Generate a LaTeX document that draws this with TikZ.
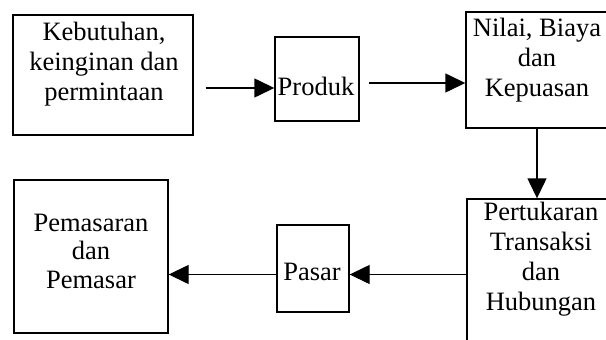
\documentclass[tikz,border=0pt]{standalone}
\usepackage{fontspec}
\setmainfont{Liberation Serif}
\usetikzlibrary{arrows.meta}
\begin{document}
\begin{tikzpicture}[x=1pt,y=-1pt,
  box/.style={draw, line width=1.4pt, inner sep=0pt, minimum width=#1},
  txt/.style={align=center, inner sep=0pt, font=\fontsize{26.5}{30}\selectfont},
  arr/.style={line width=1.4pt, -{Triangle[length=20pt,width=19pt]}}]
\clip (0,0) rectangle (606,340);
\fill[white] (0,0) rectangle (606,340);
% boxes
\node[box=180pt, minimum height=120pt] (kb) at (103,75) {};
\node[box=84pt, minimum height=84pt] (pr) at (317,79) {};
\node[box=142pt, minimum height=116pt] (nl) at (537,70) {};
\node[box=148pt, minimum height=160pt] (pt) at (541,279) {};
\node[box=72pt, minimum height=87pt] (ps) at (313,268.5) {};
\node[box=154pt, minimum height=153pt] (pm) at (91,256.5) {};
% texts
\node[txt] (tkb) at (104,64) {Kebutuhan,\\keinginan dan\\permintaan};
\node[txt] (tpr) at (316,86) {Produk};
\node[txt] (tnl) at (537,60) {Nilai, Biaya\\dan\\Kepuasan};
\node[txt] (tpt) at (541,259) {Pertukaran\\Transaksi\\dan\\Hubungan};
\node[txt] (tps) at (312,272) {Pasar};
\node[txt, font=\fontsize{26.5}{28.5}\selectfont] (tpm) at (91,251) {Pemasaran\\dan\\Pemasar};
% connectors
\path ([xshift=12pt,yshift=-13pt]kb.east) coordinate (a1);
\draw[arr] (a1) -- (a1 -| pr.west);
\path ([xshift=9pt,yshift=-4pt]pr.east) coordinate (a2);
\draw[arr] (a2) -- (a2 -| nl.west);
\draw[arr] (nl.south) -- (nl.south |- pt.north);
\path ([yshift=-6pt]ps.east) coordinate (a4);
\draw[arr] (a4 -| pt.west) -- (a4);
\draw[arr] (ps.west |- a4) -- (a4 -| pm.east);
\end{tikzpicture}
\end{document}
